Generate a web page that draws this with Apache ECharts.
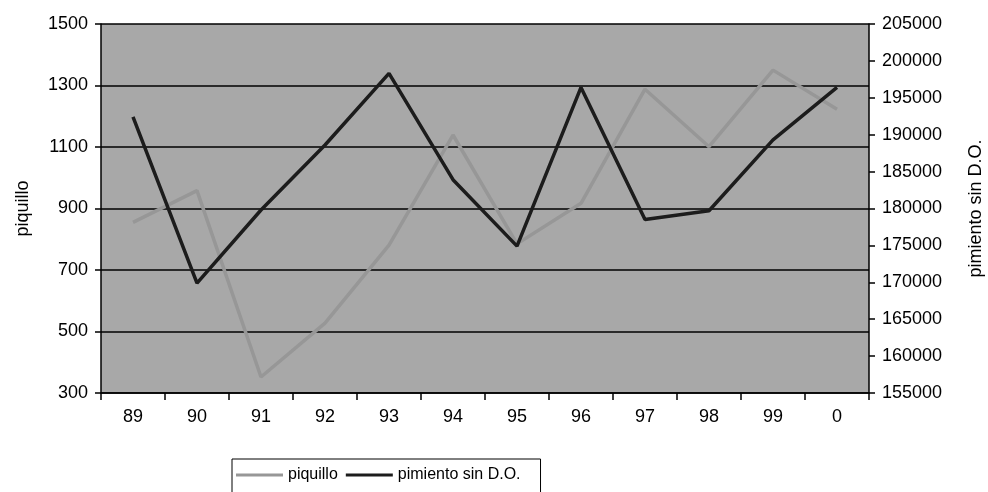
<!DOCTYPE html>
<html>
<head>
<meta charset="utf-8">
<script src="https://cdn.jsdelivr.net/npm/echarts@6/dist/echarts.min.js"></script>
<style>
  html, body { margin: 0; padding: 0; background: #fff; }
  #chart { width: 988px; height: 492px; }
</style>
</head>
<body>
<div id="chart"></div>
<script>
// Yearly series, 1989 to 2000
const years = ['89', '90', '91', '92', '93', '94', '95', '96', '97', '98', '99', '0'];
const piquillo = [855, 958, 352, 527, 781, 1139, 785, 917, 1288, 1101, 1350, 1223];
const pimientoSinDO = [192400, 169900, 179800, 188600, 198300, 183900, 174900, 196400, 178500, 179700, 189300, 196400];

const leftTicks = { min: 300, max: 1500, interval: 200 };
const rightTicks = { min: 155000, max: 205000, interval: 5000 };

const font = 'Liberation Sans, Arial, sans-serif';
const plain = v => String(v);
const chart = echarts.init(document.getElementById('chart'), null, { renderer: 'canvas' });

chart.setOption({
  animation: false,
  backgroundColor: '#ffffff',
  textStyle: { fontFamily: font, color: '#000' },
  grid: {
    left: 101, right: 119, top: 24, bottom: 99,
    containLabel: false, outerBoundsMode: 'none',
    show: true, backgroundColor: '#a8a8a8', borderWidth: 0
  },
  legend: {
    left: 232, top: 459,
    data: ['piquillo', 'pimiento sin D.O.'],
    icon: 'rect',
    itemWidth: 47, itemHeight: 3, itemGap: 8,
    padding: [8, 20, 20, 4],
    borderColor: '#000', borderWidth: 1,
    textStyle: { fontFamily: font, fontSize: 16, color: '#000' }
  },
  xAxis: {
    type: 'category',
    data: years,
    boundaryGap: true,
    axisLine: { show: true, lineStyle: { color: '#000', width: 1.5 } },
    axisTick: { show: true, length: 7, inside: false, lineStyle: { color: '#000', width: 1.5 } },
    axisLabel: { fontFamily: font, fontSize: 18, color: '#000', margin: 15 },
    splitLine: { show: false }
  },
  yAxis: [
    {
      type: 'value',
      min: leftTicks.min, max: leftTicks.max, interval: leftTicks.interval,
      name: 'piquillo', nameLocation: 'middle', nameRotate: 90, nameGap: 69,
      nameTextStyle: { fontFamily: font, fontSize: 18, color: '#000' },
      axisLine: { show: true, lineStyle: { color: '#000', width: 1.5 } },
      axisTick: { show: true, length: 6, lineStyle: { color: '#000', width: 1.5 } },
      axisLabel: { fontFamily: font, fontSize: 18, color: '#000', margin: 13, formatter: plain },
      splitLine: { show: true, lineStyle: { color: '#000', width: 1.5 } }
    },
    {
      type: 'value',
      position: 'right',
      min: rightTicks.min, max: rightTicks.max, interval: rightTicks.interval,
      name: 'pimiento sin D.O.', nameLocation: 'middle', nameRotate: 90, nameGap: 98,
      nameTextStyle: { fontFamily: font, fontSize: 18, color: '#000' },
      axisLine: { show: true, lineStyle: { color: '#000', width: 1.5 } },
      axisTick: { show: true, length: 6, lineStyle: { color: '#000', width: 1.5 } },
      axisLabel: { fontFamily: font, fontSize: 18, color: '#000', margin: 13, formatter: plain },
      splitLine: { show: false }
    }
  ],
  series: [
    {
      name: 'piquillo', type: 'line', yAxisIndex: 0,
      data: piquillo, symbol: 'none',
      lineStyle: { color: '#979797', width: 3.5 },
      itemStyle: { color: '#979797' }
    },
    {
      name: 'pimiento sin D.O.', type: 'line', yAxisIndex: 1,
      data: pimientoSinDO, symbol: 'none',
      lineStyle: { color: '#1c1c1c', width: 3.5 },
      itemStyle: { color: '#1c1c1c' }
    }
  ]
});
</script>
</body>
</html>
